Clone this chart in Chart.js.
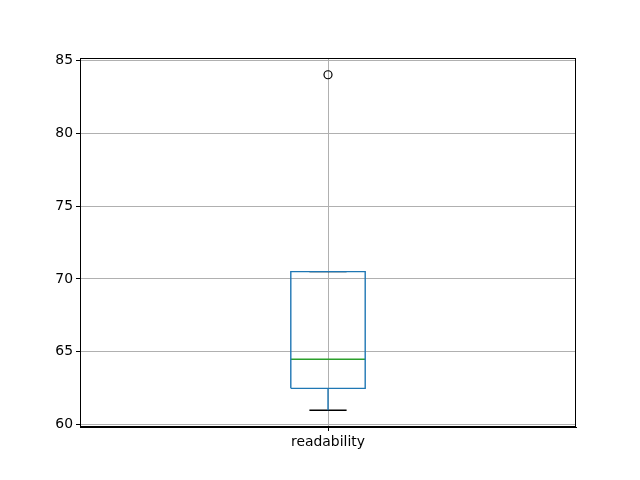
<!DOCTYPE html>
<html>
<head>
<meta charset="utf-8">
<script src="https://cdn.jsdelivr.net/npm/chart.js@4/dist/chart.umd.min.js"></script>
<style>
  html, body { margin: 0; padding: 0; background: #ffffff; }
  canvas { display: block; }
</style>
</head>
<body>
<canvas id="chart" width="640" height="480"></canvas>
<script>
// --- data (one box per category) ---
const categories = ['readability'];
const q1Values = [62.5];
const medianValues = [64.5];
const q3Values = [70.5];
const whiskerLow = [61];
const whiskerHigh = [70.5];
const outlierValues = [[84]];
const yTicks = [60, 65, 70, 75, 80, 85];
const yMin = 59.85;
const yMax = 85.15;

// --- styles (matplotlib look) ---
const BOX_BLUE = '#1f77b4';
const MEDIAN_GREEN = '#2ca02c';
const BLACK = '#000000';
const GRID = '#b0b0b0';
const BOX_HALF = 0.075;   // box width 0.15
const CAP_HALF = 0.0375;  // caps are half the box width
const FONT = { family: 'DejaVu Sans', size: 13.9 };

function lineSet(points, color) {
    return {
        type: 'scatter',
        data: points,
        showLine: true,
        borderColor: color,
        borderWidth: 1.4,
        pointRadius: 0,
        fill: false
    };
}

const datasets = [];
categories.forEach((cat, i) => {
    const x = i + 1;
    // box outline
    datasets.push(lineSet([
        { x: x - BOX_HALF, y: q1Values[i] },
        { x: x + BOX_HALF, y: q1Values[i] },
        { x: x + BOX_HALF, y: q3Values[i] },
        { x: x - BOX_HALF, y: q3Values[i] },
        { x: x - BOX_HALF, y: q1Values[i] }
    ], BOX_BLUE));
    // whiskers
    datasets.push(lineSet([{ x: x, y: q1Values[i] }, { x: x, y: whiskerLow[i] }], BOX_BLUE));
    datasets.push(lineSet([{ x: x, y: q3Values[i] }, { x: x, y: whiskerHigh[i] }], BOX_BLUE));
    // caps
    datasets.push(lineSet([{ x: x - CAP_HALF, y: whiskerLow[i] }, { x: x + CAP_HALF, y: whiskerLow[i] }], BLACK));
    datasets.push(lineSet([{ x: x - CAP_HALF, y: whiskerHigh[i] }, { x: x + CAP_HALF, y: whiskerHigh[i] }], BLACK));
    // median
    datasets.push(lineSet([{ x: x - BOX_HALF, y: medianValues[i] }, { x: x + BOX_HALF, y: medianValues[i] }], MEDIAN_GREEN));
    // fliers
    datasets.push({
        type: 'scatter',
        data: outlierValues[i].map(v => ({ x: x, y: v })),
        pointStyle: 'circle',
        pointRadius: 4,
        pointBackgroundColor: 'rgba(0,0,0,0)',
        pointBorderColor: BLACK,
        pointBorderWidth: 1.2,
        showLine: false
    });
});

// top and right spines
const framePlugin = {
    id: 'frame',
    afterDatasetsDraw(chart) {
        const { ctx, chartArea: a } = chart;
        ctx.save();
        ctx.strokeStyle = BLACK;
        ctx.lineWidth = 1;
        ctx.strokeRect(a.left + 0.5, a.top + 0.5, a.right - a.left - 1, a.bottom - a.top - 1);
        ctx.restore();
    }
};

Chart.defaults.color = BLACK;
Chart.defaults.font.family = FONT.family;
Chart.defaults.font.size = FONT.size;

new Chart(document.getElementById('chart').getContext('2d'), {
    type: 'scatter',
    data: { datasets },
    options: {
        responsive: false,
        animation: false,
        layout: { padding: { top: 58, right: 64, left: 0, bottom: 0 } },
        plugins: {
            legend: { display: false },
            tooltip: { enabled: false }
        },
        scales: {
            x: {
                type: 'linear',
                min: 0.5,
                max: categories.length + 0.5,
                afterBuildTicks: axis => {
                    axis.ticks = categories.map((c, i) => ({ value: i + 1 }));
                },
                afterFit: axis => { axis.height = 53; },
                ticks: {
                    color: BLACK,
                    font: FONT,
                    padding: 3,
                    maxRotation: 0,
                    callback: (value) => categories[Math.round(value) - 1] || ''
                },
                grid: {
                    color: GRID,
                    lineWidth: 1,
                    tickColor: BLACK,
                    tickLength: 4,
                    drawTicks: true
                },
                border: { color: BLACK, width: 1 }
            },
            y: {
                type: 'linear',
                min: yMin,
                max: yMax,
                afterBuildTicks: axis => {
                    axis.ticks = yTicks.map(v => ({ value: v }));
                },
                afterFit: axis => { axis.width = 80; },
                ticks: {
                    color: BLACK,
                    font: FONT,
                    padding: 3,
                    callback: v => String(v)
                },
                grid: {
                    color: GRID,
                    lineWidth: 1,
                    tickColor: BLACK,
                    tickLength: 4,
                    drawTicks: true
                },
                border: { color: BLACK, width: 1 }
            }
        }
    },
    plugins: [framePlugin]
});
</script>
</body>
</html>
